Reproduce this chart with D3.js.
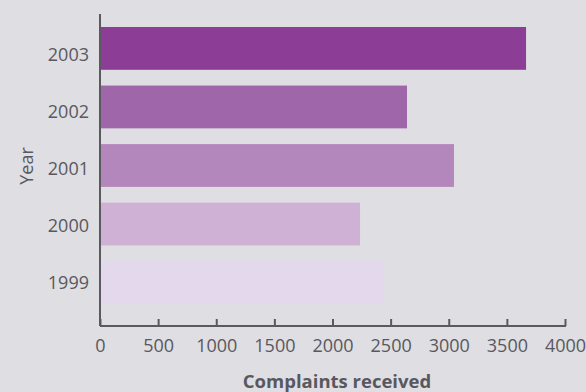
<!DOCTYPE html>
<html>
<head>
<meta charset="utf-8">
<script src="https://cdn.jsdelivr.net/npm/d3@7"></script>
<style>
  html, body { margin: 0; padding: 0; background: #dfdee2; }
  svg { display: block; }
  text { font-family: "Open Sans", Roboto, sans-serif; }
</style>
</head>
<body>
<svg id="chart" width="586" height="392"></svg>
<script>
// Complaints received per year
const years = ["2003", "2002", "2001", "2000", "1999"];
const complaints = [3665, 2641, 3045, 2237, 2443];
const barColors = ["#8c3d96", "#9f66aa", "#b487bc", "#cfb1d6", "#e4d8ec"];
const xTicks = [0, 500, 1000, 1500, 2000, 2500, 3000, 3500, 4000];

const svg = d3.select("#chart");
const axisColor = "#5a5a5e";
const textColor = "#58585e";

const x = d3.scaleLinear().domain([0, 4000]).range([100, 565]);

// bars
const y = d3.scaleBand().domain(years).range([27, 304]).paddingInner(0.269).paddingOuter(0);
// year labels sit on their own evenly spaced positions
const yLabel = d3.scalePoint().domain(years).range([54.5, 282.5]);

const plotTop = 14, plotBottom = 326;

// bars
svg.append("g").selectAll("rect")
  .data(years)
  .join("rect")
  .attr("x", x(0) + 1)
  .attr("y", d => y(d))
  .attr("width", (d, i) => x(complaints[i]) - x(0) - 1)
  .attr("height", y.bandwidth())
  .attr("fill", (d, i) => barColors[i]);

// y axis
const yAxis = svg.append("g")
  .attr("transform", `translate(${x(0)},0)`)
  .call(d3.axisLeft(yLabel).tickSize(0).tickPadding(11));
yAxis.select(".domain").remove();
yAxis.selectAll("text")
  .attr("fill", textColor)
  .style("font-size", "18px");

svg.append("line")
  .attr("x1", x(0)).attr("x2", x(0))
  .attr("y1", plotTop).attr("y2", plotBottom)
  .attr("stroke", axisColor).attr("stroke-width", 2);

// x axis
const xAxis = svg.append("g")
  .attr("transform", `translate(0,${plotBottom})`)
  .call(d3.axisBottom(x).tickValues(xTicks).tickFormat(d3.format("d"))
        .tickSizeInner(-7).tickSizeOuter(0).tickPadding(13));
xAxis.select(".domain")
  .attr("d", `M${x(0)},0H${x(4000) + 1}`)
  .attr("stroke", axisColor).attr("stroke-width", 2);
xAxis.selectAll(".tick line").attr("stroke", axisColor).attr("stroke-width", 2);
xAxis.selectAll("text")
  .attr("fill", textColor)
  .style("font-size", "18px");

// axis titles
svg.append("text")
  .attr("x", 337).attr("y", 388)
  .attr("text-anchor", "middle")
  .attr("fill", textColor)
  .style("font-size", "18.5px")
  .style("font-weight", "bold")
  .text("Complaints received");

svg.append("text")
  .attr("transform", "translate(33,166) rotate(-90)")
  .attr("text-anchor", "middle")
  .attr("fill", textColor)
  .style("font-size", "18px")
  .text("Year");
</script>
</body>
</html>
